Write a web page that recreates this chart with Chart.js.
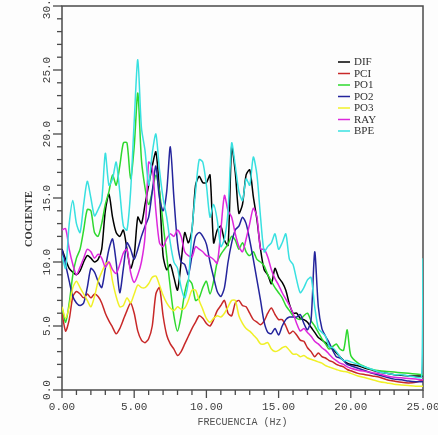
<!DOCTYPE html>
<html>
<head>
<meta charset="utf-8">
<script src="https://cdn.jsdelivr.net/npm/chart.js@4.4.1/dist/chart.umd.min.js"></script>
<style>
html,body{margin:0;padding:0;background:#fdfdfd;}
canvas{display:block;}
</style>
</head>
<body>
<canvas id="c" width="438" height="435"></canvas>
<script>
// ---------- DATA ----------
const freq = [0,0.25,0.5,0.75,1,1.25,1.5,1.75,2,2.25,2.5,2.75,3,3.25,3.5,3.75,4,4.25,4.5,4.75,
  5,5.25,5.5,5.75,6,6.25,6.5,6.75,7,7.25,7.5,7.75,8,8.25,8.5,8.75,9,9.25,9.5,9.75,
  10,10.25,10.5,10.75,11,11.25,11.5,11.75,12,12.25,12.5,12.75,13,13.25,13.5,13.75,14,14.25,14.5,14.75,
  15,15.25,15.5,15.75,16,16.25,16.5,16.75,17,17.25,17.5,17.75,18,18.25,18.5,18.75,19,19.25,19.5,19.75,
  20,20.5,21,21.5,22,22.5,23,23.5,24,24.5,24.9,25];

const DIF = [11.0,10.2,9.5,9.2, 9.0,9.3,10.0,10.5, 10.3,10.0,10.2,11.0, 14.0,15.3,13.5,12.3, 12.0,12.5,11.0,9.5,
  10.5,13.5,13.0,14.5, 16.0,17.5,18.6,15.5, 10.5,9.4,9.8,8.8, 7.8,10.0,12.3,11.5, 12.5,16.0,16.7,16.2,
  16.2,16.8,11.5,12.5, 12.8,11.7,11.3,19.0, 17.0,13.8,14.5,16.8, 17.2,15.1,13.3,11.0, 9.4,9.0,8.3,9.5,
  8.8,8.4,7.8,6.7, 6.0,6.0,5.6,5.5, 5.3,4.9,4.5,4.1, 3.9,3.7,3.4,3.2, 2.9,2.6,2.3,2.1,
  2.0,1.9,1.7,1.55,1.4,1.3,1.2,1.15,1.1,1.1,1.1,1.1];
const PCI = [6.0,4.6,5.5,7.3, 7.7,7.5,7.2,7.5, 7.2,7.5,7.3,6.8, 6.0,5.4,4.9,4.4, 4.8,5.5,6.2,6.8,
  6.0,4.6,3.9,3.7, 4.0,5.0,7.5,8.0, 5.8,4.3,3.6,3.2, 2.7,3.0,3.6,4.2, 4.8,5.3,5.8,5.6,
  5.2,5.0,5.5,6.2, 6.6,7.0,6.0,5.8, 6.8,7.0,6.6,6.5, 6.0,5.5,5.3,5.1, 5.4,6.0,6.4,5.9,
  5.5,5.5,5.0,4.4, 4.6,4.3,3.9,3.8, 3.3,3.0,2.6,2.9, 2.6,2.5,2.3,2.2, 2.0,1.9,1.8,1.6,
  1.5,1.3,1.2,1.1,1.0,0.8,0.7,0.6,0.55,0.6,0.75,0.8];
const PO1 = [6.5,5.3,6.8,9.0, 10.3,11.0,12.5,14.1, 14.0,12.3,12.0,13.0, 14.5,15.5,16.8,16.0, 17.5,19.3,19.3,16.5,
  19.0,23.2,18.0,15.8, 14.5,15.5,16.8,15.5, 13.0,10.5,8.0,5.8, 4.6,5.8,7.6,8.6, 8.3,7.0,7.2,8.0,
  8.5,7.5,8.5,10.0, 10.6,11.0,11.4,12.0, 11.7,11.0,11.5,10.8, 10.5,10.8,10.2,10.0, 9.7,9.0,8.5,8.0,
  7.6,7.2,6.6,6.2, 5.8,5.6,5.5,5.8, 6.0,5.4,5.0,4.5, 4.0,3.6,3.2,3.4, 3.6,3.2,3.1,4.7,
  2.7,2.1,1.8,1.6,1.5,1.45,1.4,1.35,1.3,1.25,1.2,1.2];
const PO2 = [11.0,9.8,8.5,7.3, 6.8,6.6,6.8,8.0, 9.5,9.2,8.5,8.0, 9.5,11.0,11.8,10.0, 7.6,9.5,11.5,11.0,
  10.2,11.0,12.0,12.8, 13.5,15.5,17.5,15.0, 14.0,15.5,19.0,15.0, 11.5,10.0,9.8,9.0, 10.5,12.0,12.3,12.0,
  11.4,10.0,8.8,7.7, 7.3,8.0,10.0,11.5, 12.5,12.8,13.5,13.0, 11.7,10.2,8.6,7.0, 5.3,4.5,4.4,4.8,
  4.3,5.0,5.5,5.7, 5.7,5.7,5.9,5.2, 4.7,5.5,10.8,6.5, 4.8,4.2,3.7,3.1, 2.6,2.5,2.3,2.0,
  1.9,1.7,1.5,1.3,1.15,1.0,0.85,0.8,0.7,0.65,0.65,0.65];
const PO3 = [6.5,5.6,6.5,8.0, 8.5,8.0,7.5,7.0, 6.5,7.3,8.5,9.2, 9.8,10.0,8.5,7.3, 6.5,6.6,7.2,6.8,
  7.5,8.2,8.0,8.0, 8.3,8.8,8.9,8.2, 7.4,6.8,6.4,6.2, 6.5,6.3,6.4,7.0, 7.8,7.8,7.0,6.3,
  5.6,5.3,5.6,5.8, 5.7,6.0,6.5,7.0, 7.0,5.8,5.2,4.8, 4.6,4.3,4.0,3.6, 3.6,3.7,3.2,3.0,
  3.1,3.3,3.4,3.1, 2.8,2.8,2.6,2.7, 2.5,2.4,2.3,2.2, 2.1,1.9,1.8,1.7, 1.6,1.5,1.45,1.4,
  1.3,1.1,0.95,0.8,0.65,0.55,0.45,0.4,0.35,0.3,0.3,0.3];
const RAY = [12.5,12.6,11.0,9.8, 9.0,9.6,10.3,11.0, 10.8,10.3,10.6,10.3, 9.6,10.0,9.4,9.1, 9.8,10.7,11.0,9.2,
  8.4,9.0,10.0,12.0, 17.8,17.4,14.0,11.5, 11.2,11.8,12.2,12.0, 12.5,12.0,10.8,10.5, 10.4,11.2,11.0,10.8,
  10.5,10.4,10.2,9.9, 12.5,15.2,14.0,13.5, 12.2,11.2,10.8,11.8, 13.0,14.2,13.5,11.0, 11.0,10.4,9.4,8.7,
  8.2,7.6,7.1,6.6, 6.0,5.2,4.6,4.8, 4.5,4.2,3.8,3.6, 3.3,3.1,2.8,2.5, 2.3,2.1,2.0,1.8,
  1.7,1.55,1.45,1.35,1.25,1.1,1.0,0.95,0.9,0.85,0.8,0.8];
const BPE = [10.5,9.5,13.0,14.8, 13.0,12.3,14.5,16.3, 15.0,13.6,14.1,14.8, 18.5,16.0,16.5,17.8, 15.5,12.8,12.5,15.5,
  21.0,25.8,20.5,18.7, 16.0,18.5,20.0,17.2, 15.0,13.5,11.5,10.0, 9.5,8.0,7.2,8.5, 12.5,15.5,18.0,17.8,
  16.0,13.5,14.5,13.3, 11.2,11.8,14.0,19.3, 17.5,15.5,14.8,16.5, 16.0,18.2,16.8,13.5, 10.8,11.2,11.5,12.2,
  11.0,11.5,12.2,10.2, 9.8,8.6,7.6,8.0, 8.6,8.8,6.5,4.8, 4.5,4.2,3.4,3.3, 3.0,2.6,2.3,2.3,
  2.2,2.0,1.8,1.6,1.4,1.3,1.2,1.2,1.1,1.0,1.0,10.3];

const seriesNames = ['DIF','PCI','PO1','PO2','PO3','RAY','BPE'];
const seriesValues = [DIF, PCI, PO1, PO2, PO3, RAY, BPE];
const seriesColors = ['#000000','#c82828','#2ed82e','#24249c','#f0f028','#dc28dc','#38e0e0'];

const xTickValues = [0,5,10,15,20,25];
const xTickLabels = ['0.00','5.00','10.00','15.00','20.00','25.00'];
const yTickValues = [0,5,10,15,20,25,30];
const yTickLabels = ['0.0','5.0','10.0','15.0','20.0','25.0','30.0'];
const xTitle = 'FRECUENCIA (Hz)';
const yTitle = 'COCIENTE';

// ---------- CHART ----------
const datasets = seriesNames.map((name, i) => ({
  label: name,
  data: freq.map((f, j) => ({x: f, y: seriesValues[i][j]})),
  borderColor: seriesColors[i],
  backgroundColor: seriesColors[i],
  borderWidth: 1.5,
  pointRadius: 0,
  tension: 0.25,
  fill: false,
  order: seriesNames.length - i
}));

const decor = {
  id: 'decor',
  beforeDraw(chart) {
    const ctx = chart.ctx;
    ctx.save();
    ctx.fillStyle = '#fdfdfd';
    ctx.fillRect(0, 0, chart.width, chart.height);
    ctx.restore();
  },
  beforeDatasetsDraw(chart) {
    const {ctx, chartArea: a, scales: {x, y}} = chart;
    ctx.save();
    ctx.strokeStyle = '#4a4a4a';
    ctx.lineWidth = 1.5;
    ctx.strokeRect(a.left, a.top, a.right - a.left, a.bottom - a.top);
    ctx.lineWidth = 1.3;
    // x ticks (minor every 1 Hz)
    for (let v = x.min; v <= x.max; v += 1) {
      const px = x.getPixelForValue(v);
      const len = xTickValues.includes(v) ? 8 : 5;
      ctx.beginPath(); ctx.moveTo(px, a.bottom); ctx.lineTo(px, a.bottom + len); ctx.stroke();
    }
    for (let v = y.min; v <= y.max; v += 1) {
      const py = y.getPixelForValue(v);
      const len = yTickValues.includes(v) ? 9 : 5;
      ctx.beginPath(); ctx.moveTo(a.left, py); ctx.lineTo(a.left - len, py); ctx.stroke();
    }
    // x labels
    ctx.fillStyle = '#404040';
    ctx.font = '11px "Liberation Mono", monospace';
    ctx.textAlign = 'center';
    ctx.textBaseline = 'middle';
    xTickValues.forEach((v, i) => {
      ctx.fillText(xTickLabels[i], x.getPixelForValue(v), a.bottom + 17);
    });
    // y labels rotated
    yTickValues.forEach((v, i) => {
      ctx.save();
      ctx.translate(a.left - 15, y.getPixelForValue(v));
      ctx.rotate(-Math.PI / 2);
      ctx.fillText(yTickLabels[i], 0, 0);
      ctx.restore();
    });
    // axis titles
    ctx.fillStyle = '#505050';
    ctx.font = '10px "Liberation Mono", monospace';
    ctx.fillText(xTitle, (a.left + a.right) / 2, a.bottom + 32);
    ctx.save();
    ctx.translate(29, 219);
    ctx.rotate(-Math.PI / 2);
    ctx.font = 'bold 10.5px "Liberation Serif", serif';
    ctx.fillStyle = '#383838';
    ctx.fillText(yTitle, 0, 0);
    ctx.restore();
    // legend
    ctx.font = '11px "Liberation Serif", serif';
    ctx.textAlign = 'left';
    chart.data.datasets.forEach((ds, i) => {
      const ly = 62 + i * 11.5;
      ctx.strokeStyle = ds.borderColor;
      ctx.lineWidth = 1.5;
      ctx.beginPath(); ctx.moveTo(338, ly); ctx.lineTo(350, ly); ctx.stroke();
      ctx.fillStyle = '#303030';
      ctx.fillText(ds.label, 354, ly + 0.5);
    });
    ctx.restore();
  }
};

new Chart(document.getElementById('c'), {
  type: 'line',
  data: { datasets },
  options: {
    responsive: false,
    animation: false,
    devicePixelRatio: 1,
    layout: { padding: { left: 62, right: 15, top: 6, bottom: 45 } },
    plugins: { legend: { display: false }, tooltip: { enabled: false } },
    scales: {
      x: { type: 'linear', min: 0, max: 25, display: false },
      y: { type: 'linear', min: 0, max: 30, display: false }
    }
  },
  plugins: [decor]
});
</script>
</body>
</html>
